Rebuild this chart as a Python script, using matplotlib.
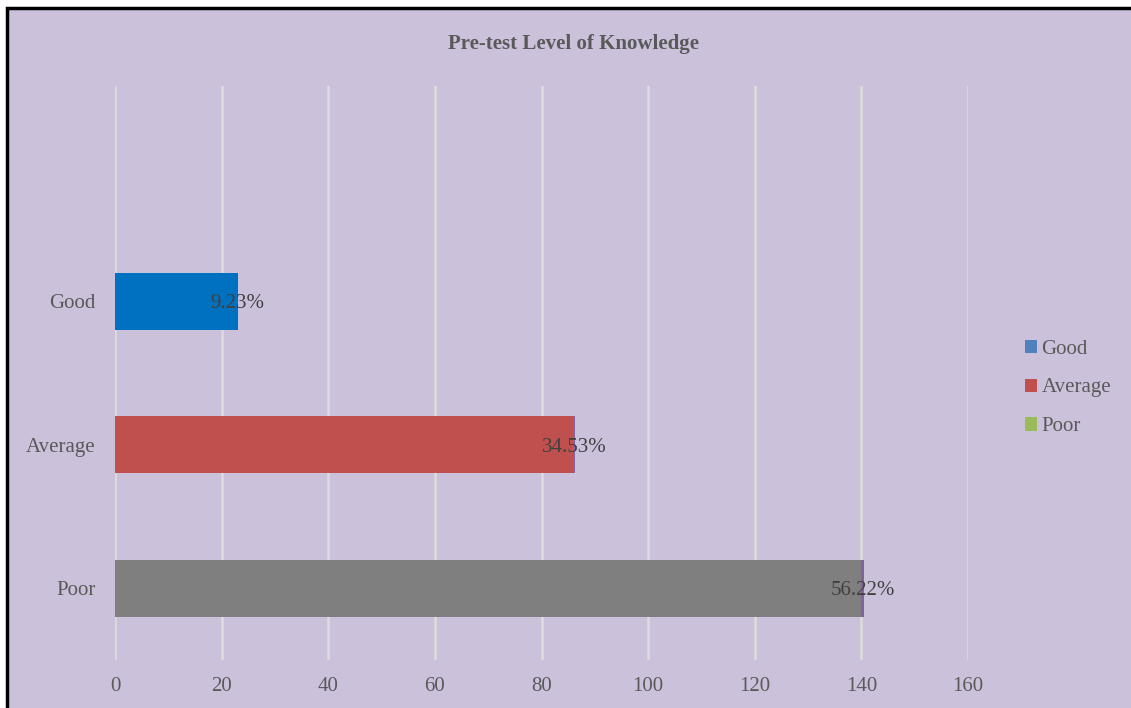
import matplotlib.pyplot as plt
from matplotlib.patches import Patch, Rectangle

# pre-test knowledge levels: counts and share of respondents
categories = ["Poor", "Average", "Good"]
counts = [140, 86, 23]
shares = [0.5622, 0.3453, 0.0923]
bar_colors = ["#7F7F7F", "#C0504D", "#0070C0"]
legend_labels = ["Good", "Average", "Poor"]
legend_colors = ["#4F81BD", "#C0504D", "#9BBB59"]

plt.rcParams["font.family"] = ["Liberation Serif", "DejaVu Serif"]
bg = "#CCC1DB"
txt = "#595959"

fig = plt.figure(figsize=(11.31, 7.08), dpi=100, facecolor="white")
frame = Rectangle((7 / 1131, -0.1), 1.2, 1.1 - 8 / 708,
                  transform=fig.transFigure, facecolor=bg,
                  edgecolor="black", linewidth=2.5, zorder=-10)
fig.patches.append(frame)

ax = fig.add_axes([115 / 1131, 1 - 660 / 708, (968 - 115) / 1131, (660 - 86) / 708])
ax.set_facecolor("none")
ax.set_zorder(1)

ypos = list(range(len(categories)))
ax.barh(ypos, counts, height=0.4, color=bar_colors, zorder=2)
ax.barh(ypos, shares, left=counts, height=0.4, color="#8064A2", zorder=2)

for y, c, s in zip(ypos, counts, shares):
    ax.text(c + s / 2, y, f"{s * 100:.2f}%", ha="center", va="center_baseline",
            fontsize=15, color="#404040", zorder=3)

ax.set_xlim(0, 160)
ax.set_ylim(-0.5, 3.5)
ax.set_xticks(range(0, 161, 20))
ax.set_yticks(ypos)
ax.set_yticklabels(categories)
ax.tick_params(length=0, labelsize=15, labelcolor=txt)
ax.tick_params(axis="x", pad=12)
ax.tick_params(axis="y", pad=14)
ax.grid(axis="x", color="#DCDCDC", linewidth=1.8, zorder=1)
ax.set_axisbelow(True)
for sp in ax.spines.values():
    sp.set_visible(False)

fig.text(573 / 1131, 1 - 44 / 708, "Pre-test Level of Knowledge", ha="center",
         va="center", fontsize=15, fontweight="bold", color=txt)

handles = [Patch(facecolor=c, label=l) for l, c in zip(legend_labels, legend_colors)]
fig.legend(handles=handles, loc="center left", bbox_to_anchor=(1006 / 1131, 1 - 388 / 708),
           frameon=False, fontsize=15, labelcolor=txt, handlelength=0.6,
           handleheight=0.6, handletextpad=0.2, labelspacing=0.95)

fig.savefig("out.png", dpi=100, facecolor=fig.get_facecolor())
